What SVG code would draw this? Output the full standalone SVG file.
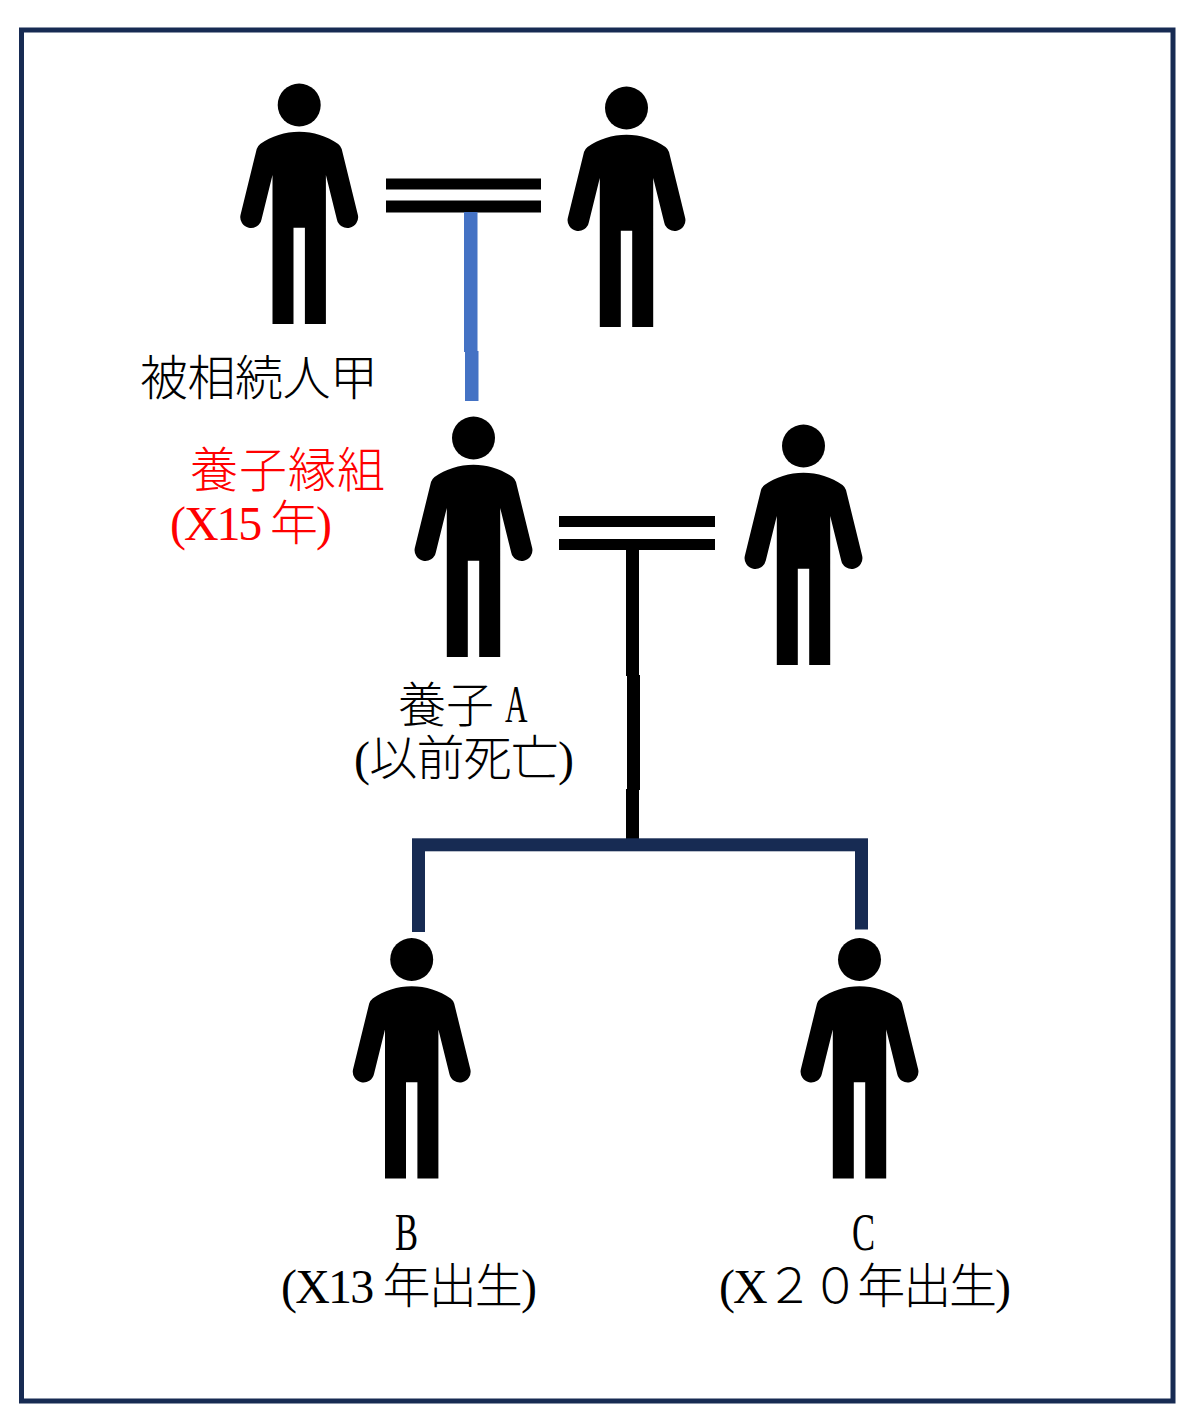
<svg xmlns="http://www.w3.org/2000/svg" width="1200" height="1423" viewBox="0 0 1200 1423">
<style>
text{font-family:"Liberation Serif","Noto Sans CJK JP",serif;font-size:48px;font-weight:300;fill:#000}
.red{fill:#f00}
.navy{fill:#172b53}
.blk{fill:#000}
.blue{fill:#4472c4}
</style>
<defs>
<g id="person">
<circle cx="0" cy="0" r="21.500"/>
<path d="M0 26.700C14 26.700 28 31 39 39Q41.500 41 42.500 44L58.700 110A10.700 10.700 0 1 1 37.700 114.500L26.700 70V219H5.700V122.700H-5.700V219H-26.700V70L-37.700 114.500A10.700 10.700 0 1 1 -58.700 110L-42.500 44Q-41.500 41 -39 39C-28 31 -14 26.700 0 26.700Z"/>
</g>
</defs>
<rect width="1200" height="1423" fill="#fff"/>
<rect x="21.500" y="30" width="1151.500" height="1371" fill="none" stroke="#172b53" stroke-width="5"/>
<g id="connectors">
<rect class="blk" x="386" y="178.500" width="155" height="11"/>
<rect class="blk" x="386" y="200.500" width="155" height="12"/>
<rect class="blue" x="464" y="212" width="13.500" height="140"/>
<rect class="blue" x="465" y="351" width="13.500" height="50"/>
<rect class="blk" x="559" y="516" width="156" height="11"/>
<rect class="blk" x="559" y="539" width="156" height="11"/>
<rect class="blk" x="626" y="550" width="13" height="126"/>
<rect class="blk" x="627" y="675" width="13" height="115"/>
<rect class="blk" x="626" y="789" width="13" height="50"/>
<rect class="navy" x="412" y="838.300" width="456" height="13"/>
<rect class="navy" x="412" y="850" width="13" height="82"/>
<rect class="navy" x="855" y="850" width="13" height="79.500"/>
</g>
<g id="person-jia"><use href="#person" x="299.200" y="105"/><text x="140" y="395" textLength="238">被相続人甲</text></g>
<g id="spouse-jia"><use href="#person" x="626.500" y="108"/></g>
<g id="person-a"><use href="#person" x="473.500" y="438"/><text x="398" y="722">養子</text><text transform="translate(505 722) scale(.65 1.1)">A</text><text x="354" y="775" textLength="220">(以前死亡)</text></g>
<g id="spouse-a"><use href="#person" x="803.500" y="446"/></g>
<g id="adoption-label"><text class="red" x="190" y="487" textLength="195">養子縁組</text><text class="red" x="170" y="540" textLength="162">(X15 年)</text></g>
<g id="person-b"><use href="#person" x="411.700" y="959.500"/><text transform="translate(395 1250) scale(.72 1.1)">B</text><text x="281" y="1303" textLength="256">(X13 年出生)</text></g>
<g id="person-c"><use href="#person" x="859.500" y="959.500"/><text transform="translate(852 1250) scale(.72 1.1)">C</text><text x="719" y="1303" textLength="292">(X２０年出生)</text></g>
</svg>
